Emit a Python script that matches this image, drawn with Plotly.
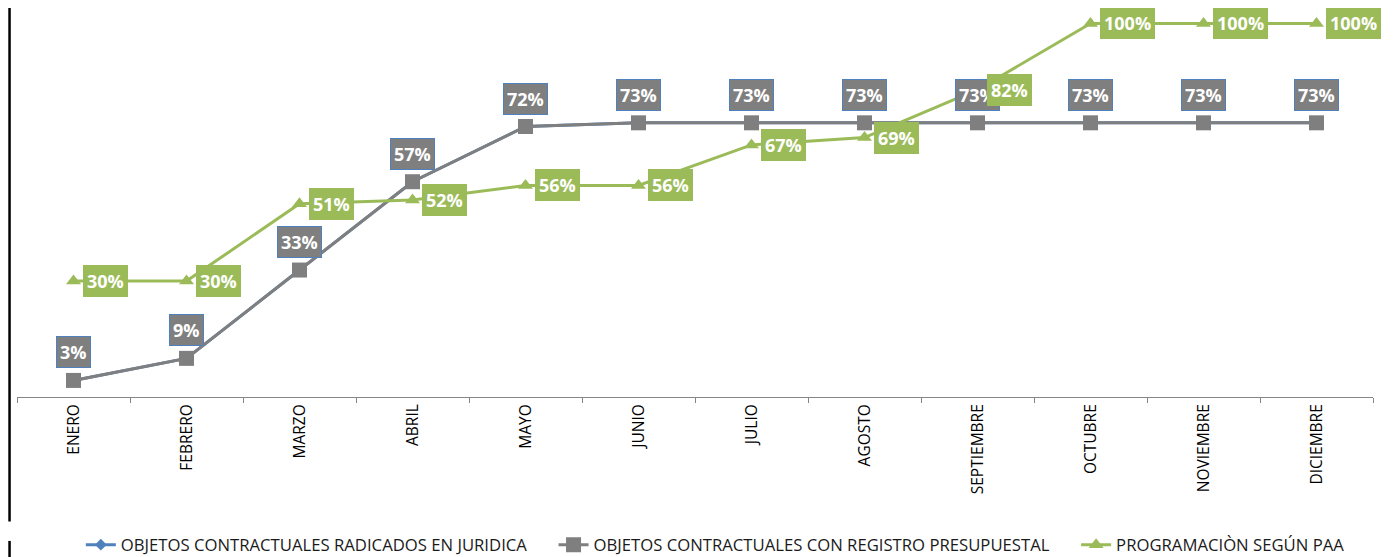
import plotly.graph_objects as go

months = ["ENERO", "FEBRERO", "MARZO", "ABRIL", "MAYO", "JUNIO", "JULIO",
          "AGOSTO", "SEPTIEMBRE", "OCTUBRE", "NOVIEMBRE", "DICIEMBRE"]
radicados = [0.03, 0.09, 0.33, 0.57, 0.72, 0.73, 0.73, 0.73, 0.73, 0.73, 0.73, 0.73]
registro = [0.03, 0.09, 0.33, 0.57, 0.72, 0.73, 0.73, 0.73, 0.73, 0.73, 0.73, 0.73]
programacion = [0.30, 0.30, 0.51, 0.52, 0.56, 0.56, 0.67, 0.69, 0.82, 1.00, 1.00, 1.00]

names = ["OBJETOS CONTRACTUALES RADICADOS EN JURIDICA",
         "OBJETOS CONTRACTUALES CON REGISTRO PRESUPUESTAL",
         "PROGRAMACIÒN SEGÚN PAA"]

BLUE = "#4F81BD"
GRAY = "#7F7F7F"
GREEN = "#9BBB59"
FONT = "'Open Sans', sans-serif"
PAD = "\u00a0" * 5

fig = go.Figure()
fig.add_trace(go.Scatter(x=months, y=radicados, name=names[0] + PAD, mode="lines+markers",
                         line=dict(color=BLUE, width=3),
                         marker=dict(symbol="diamond", size=9, color=BLUE)))
fig.add_trace(go.Scatter(x=months, y=registro, name=names[1] + PAD, mode="lines+markers",
                         line=dict(color=GRAY, width=3),
                         marker=dict(symbol="square", size=15, color=GRAY)))
fig.add_trace(go.Scatter(x=months, y=programacion, name=names[2], mode="lines+markers",
                         line=dict(color=GREEN, width=3),
                         marker=dict(symbol="triangle-up", size=13, color=GREEN)))

ann = []
for m, v in zip(months, registro):
    ann.append(dict(x=m, y=v, xref="x", yref="y", text=f"<b>{round(v*100)}%</b>",
                    showarrow=False, yshift=28, bgcolor=GRAY, bordercolor=BLUE,
                    borderwidth=1, borderpad=3,
                    font=dict(family=FONT, size=18, color="white")))
for m, v in zip(months, programacion):
    ann.append(dict(x=m, y=v, xref="x", yref="y", text=f"<b>{round(v*100)}%</b>",
                    showarrow=False, xanchor="left", xshift=9, bgcolor=GREEN,
                    bordercolor=GREEN, borderwidth=1, borderpad=3,
                    font=dict(family=FONT, size=18, color="white")))

fig.update_layout(
    width=1395, height=557,
    margin=dict(l=8.5, r=29.5, t=0, b=168),
    paper_bgcolor="white", plot_bgcolor="white",
    showlegend=True,
    legend=dict(orientation="h", x=0.515, xanchor="center", y=-0.38, yanchor="middle",
                font=dict(family=FONT, size=16.7, color="#1a1a1a"),
                traceorder="normal"),
    annotations=ann,
    xaxis=dict(type="category", tickangle=-90, tickson="boundaries",
               ticks="outside", ticklen=5, tickcolor="#868686",
               showline=True, linecolor="#868686", linewidth=1,
               showgrid=False, zeroline=False, range=[-0.5, 11.5],
               tickfont=dict(family=FONT, size=15.5, color="black")),
    yaxis=dict(visible=False, range=[-0.015, 1.042]),
    shapes=[
        dict(type="line", xref="paper", yref="paper", x0=-0.0055, x1=-0.0055,
             y0=1.0, y1=-0.32, line=dict(color="black", width=2.5)),
        dict(type="line", xref="paper", yref="paper", x0=-0.0055, x1=-0.0055,
             y0=-0.37, y1=-0.43, line=dict(color="black", width=2.5)),
    ],
)

fig.write_html("out.html")
